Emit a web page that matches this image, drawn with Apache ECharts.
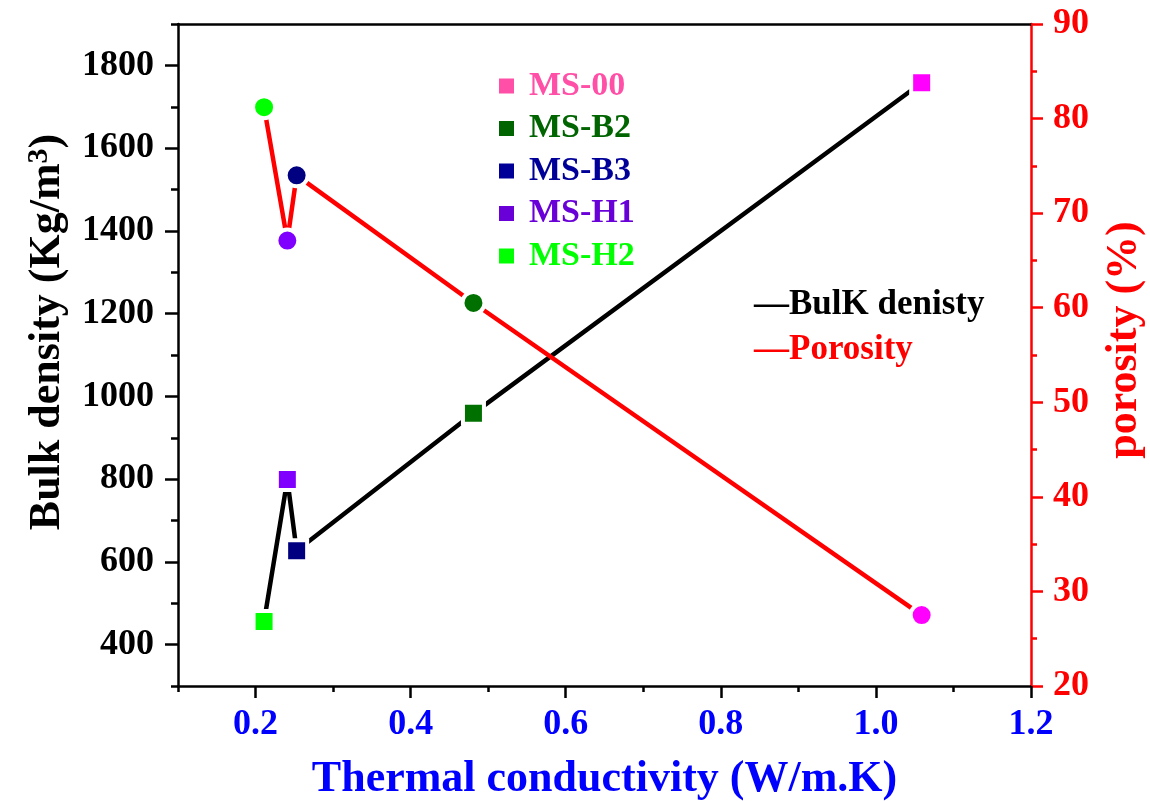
<!DOCTYPE html>
<html>
<head>
<meta charset="utf-8">
<script src="https://cdn.jsdelivr.net/npm/echarts@6/dist/echarts.min.js"></script>
<style>html,body{margin:0;padding:0;background:#fff}#c{width:1150px;height:801px}</style>
</head>
<body>
<div id="c"></div>
<script>
// ---- data ----
const samples = ['MS-H2', 'MS-H1', 'MS-B3', 'MS-B2', 'MS-00'];
const conductivity = [0.211, 0.241, 0.253, 0.481, 1.059];
const bulkDensity = [456, 799, 627, 959, 1758];
const porosity = [81.2, 67.1, 74.0, 60.5, 27.5];
const pointColors = ['#00ff00', '#8000ff', '#000080', '#007000', '#ff00ff'];
// legend of samples (top-down order)
const legendNames = ['MS-00', 'MS-B2', 'MS-B3', 'MS-H1', 'MS-H2'];
const legendColors = ['#ff4fa7', '#006400', '#000099', '#6a00d8', '#00ff00'];
// ticks
const xMajor = [0.2, 0.4, 0.6, 0.8, 1.0, 1.2];
const xMinor = [0.1, 0.3, 0.5, 0.7, 0.9, 1.1];
const yMajor = [400, 600, 800, 1000, 1200, 1400, 1600, 1800];
const yMinor = [300, 500, 700, 900, 1100, 1300, 1500, 1700, 1900];

const FONT = 'Liberation Serif';
const chart = echarts.init(document.getElementById('c'), null, {renderer: 'canvas'});

function pts(vals) {
  return vals.map((v, i) => ({
    value: [conductivity[i], v],
    name: samples[i],
    itemStyle: {color: pointColors[i], borderColor: '#ffffff', borderWidth: 4}
  }));
}

const graphics = [];
legendNames.forEach((n, i) => {
  const cy = 86 + i * 42.5;
  graphics.push({type: 'rect', shape: {x: 499, y: cy - 7.5, width: 15, height: 15}, style: {fill: legendColors[i]}});
  graphics.push({type: 'text', x: 529, y: cy, style: {text: n, fill: legendColors[i], font: 'bold 34px "' + FONT + '"', verticalAlign: 'middle', align: 'left'}});
});
graphics.push({type: 'text', x: 754, y: 305, style: {text: '—BulK denisty', fill: '#000', font: 'bold 35px "' + FONT + '"', verticalAlign: 'middle'}});
graphics.push({type: 'text', x: 754, y: 350, style: {text: '—Porosity', fill: '#ff0000', font: 'bold 35px "' + FONT + '"', verticalAlign: 'middle'}});

const option = {
  animation: false,
  backgroundColor: '#ffffff',
  grid: {left: 178, right: 119, top: 24, bottom: 115, containLabel: false, outerBoundsMode: 'none'},
  xAxis: [
    {
      type: 'value', min: 0.1, max: 1.2, position: 'bottom',
      name: 'Thermal conductivity (W/m.K)', nameLocation: 'middle', nameGap: 72,
      nameTextStyle: {color: '#0000ff', fontFamily: FONT, fontWeight: 'bold', fontSize: 44},
      axisLine: {lineStyle: {color: '#000', width: 2.5}},
      axisTick: {show: true, customValues: xMajor, length: 12, lineStyle: {color: '#000', width: 2.5}},
      axisLabel: {customValues: xMajor, formatter: v => v.toFixed(1), color: '#0000ff', fontFamily: FONT, fontWeight: 'bold', fontSize: 36, margin: 21},
      splitLine: {show: false}
    },
    {
      type: 'value', min: 0.1, max: 1.2, position: 'bottom',
      axisLine: {show: false},
      axisTick: {show: true, customValues: xMinor, length: 6, lineStyle: {color: '#000', width: 2.5}},
      axisLabel: {show: false}, splitLine: {show: false}
    },
    {
      type: 'value', min: 0.1, max: 1.2, position: 'top',
      axisLine: {show: true, lineStyle: {color: '#000', width: 2.5}},
      axisTick: {show: false}, axisLabel: {show: false}, splitLine: {show: false}
    }
  ],
  yAxis: [
    {
      type: 'value', min: 300, max: 1900, position: 'left',
      name: 'Bulk density (Kg/m{sup|3})', nameLocation: 'middle', nameGap: 106, nameRotate: 90,
      nameTextStyle: {color: '#000', fontFamily: FONT, fontWeight: 'bold', fontSize: 44, padding: [0, 0, 0, 46],
        rich: {sup: {fontSize: 30, fontFamily: FONT, fontWeight: 'bold', verticalAlign: 'top', padding: [0, 0, 18, 0]}}},
      axisLine: {show: true, lineStyle: {color: '#000', width: 2.5}},
      axisTick: {show: true, customValues: yMajor, length: 13, lineStyle: {color: '#000', width: 2.5}},
      axisLabel: {customValues: yMajor, formatter: v => String(v), color: '#000', fontFamily: FONT, fontWeight: 'bold', fontSize: 36, margin: 24},
      splitLine: {show: false}
    },
    {
      type: 'value', min: 20, max: 90, interval: 10, position: 'right',
      name: 'porosity (%)', nameLocation: 'middle', nameGap: 72, nameRotate: 90,
      nameTextStyle: {color: '#ff0000', fontFamily: FONT, fontWeight: 'bold', fontSize: 44, padding: [0, 0, 0, 30]},
      axisLine: {show: true, lineStyle: {color: '#ff0000', width: 2.5}},
      axisTick: {show: true, length: 12, lineStyle: {color: '#ff0000', width: 2.5}},
      minorTick: {show: true, splitNumber: 2, length: 6, lineStyle: {color: '#ff0000', width: 2.5}},
      axisLabel: {formatter: v => String(v), color: '#ff0000', fontFamily: FONT, fontWeight: 'bold', fontSize: 36, margin: 22},
      splitLine: {show: false}
    },
    {
      type: 'value', min: 300, max: 1900, position: 'left',
      axisLine: {show: false},
      axisTick: {show: true, customValues: yMinor, length: 7, lineStyle: {color: '#000', width: 2.5}},
      axisLabel: {show: false}, splitLine: {show: false}
    }
  ],
  series: [
    {
      type: 'line', name: 'BulK denisty', xAxisIndex: 0, yAxisIndex: 0,
      symbol: 'rect', symbolSize: 21,
      lineStyle: {color: '#000', width: 4.5},
      data: pts(bulkDensity), z: 3
    },
    {
      type: 'line', name: 'Porosity', xAxisIndex: 0, yAxisIndex: 1,
      symbol: 'circle', symbolSize: 22,
      lineStyle: {color: '#ff0000', width: 4.5},
      data: pts(porosity), z: 3
    }
  ],
  graphic: graphics
};
chart.setOption(option);
</script>
</body>
</html>
